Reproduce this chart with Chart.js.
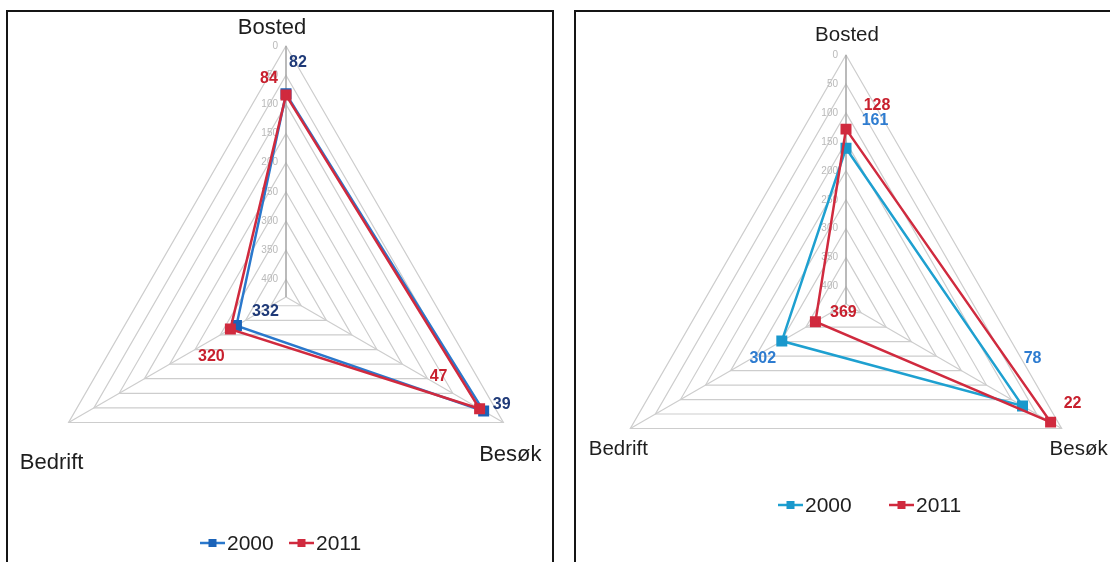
<!DOCTYPE html>
<html>
<head>
<meta charset="utf-8">
<script src="https://cdn.jsdelivr.net/npm/chart.js@4.4.1/dist/chart.umd.min.js"></script>
<style>
  html, body { margin: 0; padding: 0; background: #fff; }
  body { width: 1110px; height: 562px; position: relative; overflow: hidden; }
  .frame { position: absolute; top: 10px; height: 600px; border: 2px solid #151515; box-sizing: border-box; background: #fff; }
  #frameLeft { left: 6px; width: 548px; }
  #frameRight { left: 574px; width: 600px; }
  canvas { position: absolute; top: 0; }
  #leftChart { left: 0; }
  #rightChart { left: 565px; }
</style>
</head>
<body>
<div class="frame" id="frameLeft"></div>
<div class="frame" id="frameRight"></div>
<canvas id="leftChart" width="560" height="562"></canvas>
<canvas id="rightChart" width="545" height="562"></canvas>
<script>
const categories = ["Bosted", "Besøk", "Bedrift"];
const seriesNames = ["2000", "2011"];
// rank values, low rank = outer edge (reversed axis)
const left2000 = [82, 39, 332];
const left2011 = [84, 47, 320];
const right2000 = [161, 78, 302];
const right2011 = [128, 22, 369];
const tickValues = [0, 50, 100, 150, 200, 250, 300, 350, 400];
const axisMax = 430;

const FONT = '"Liberation Sans", Arial, sans-serif';
const RED = "#d02a3e";

// draws tick labels, category labels, value labels and legend
const radarText = {
    id: "radarText",
    beforeDatasetsDraw(chart, args, opts) {
        const ctx = chart.ctx;
        const r = chart.scales.r;
        ctx.save();
        ctx.font = "10px " + FONT;
        ctx.fillStyle = "#b9b9b9";
        ctx.textAlign = "right";
        ctx.textBaseline = "middle";
        tickValues.forEach((v) => {
            const p = r.getPointPositionForValue(0, v);
            ctx.fillText(String(v), p.x - 8, p.y);
        });
        ctx.restore();
    },
    afterDatasetsDraw(chart, args, opts) {
        const ctx = chart.ctx;
        const r = chart.scales.r;
        ctx.save();

        // category labels
        ctx.font = opts.catFont + "px " + FONT;
        ctx.fillStyle = "#1e1e1e";
        ctx.textAlign = "center";
        ctx.textBaseline = "middle";
        chart.data.labels.forEach((label, i) => {
            const p = r.getPointPositionForValue(i, 0);
            const off = opts.catOffsets[i];
            ctx.fillText(label, p.x + off[0], p.y + off[1]);
        });

        // value labels
        ctx.font = "bold 16px " + FONT;
        chart.data.datasets.forEach((ds, di) => {
            const meta = chart.getDatasetMeta(di);
            ctx.fillStyle = opts.valueColors[di];
            meta.data.forEach((pt, i) => {
                const off = opts.valueOffsets[di][i];
                ctx.fillText(String(ds.data[i]), pt.x + off[0], pt.y + off[1]);
            });
        });

        // legend
        ctx.font = "21px " + FONT;
        ctx.textAlign = "left";
        chart.data.datasets.forEach((ds, di) => {
            const x = opts.legendX[di];
            const y = opts.legendY;
            ctx.strokeStyle = ds.borderColor;
            ctx.lineWidth = 2.5;
            ctx.beginPath();
            ctx.moveTo(x, y);
            ctx.lineTo(x + 25, y);
            ctx.stroke();
            ctx.fillStyle = ds.pointBackgroundColor;
            ctx.fillRect(x + 8.5, y - 4, 8, 8);
            ctx.fillStyle = "#1e1e1e";
            ctx.fillText(ds.label, x + 27, y + 1);
        });
        ctx.restore();
    },
};

const makeRadar = (id, data2000, data2011, blue, blueMarker, padding, textOpts) => {
    const ctx = document.getElementById(id).getContext("2d");
    return new Chart(ctx, {
        type: "radar",
        data: {
            labels: categories,
            datasets: [
                {
                    label: seriesNames[0],
                    data: data2000,
                    borderColor: blue,
                    backgroundColor: blue,
                    pointBackgroundColor: blueMarker,
                    pointBorderColor: blueMarker,
                    borderWidth: 2.5,
                    pointStyle: "rect",
                    pointRadius: 6,
                    fill: false,
                    order: 1,
                },
                {
                    label: seriesNames[1],
                    data: data2011,
                    borderColor: RED,
                    backgroundColor: RED,
                    pointBackgroundColor: RED,
                    pointBorderColor: RED,
                    borderWidth: 2.5,
                    pointStyle: "rect",
                    pointRadius: 6,
                    fill: false,
                    order: 0,
                },
            ],
        },
        options: {
            responsive: false,
            animation: false,
            layout: { padding: padding },
            plugins: {
                legend: { display: false },
                tooltip: { enabled: false },
                radarText: textOpts,
            },
            scales: {
                r: {
                    min: 0,
                    max: axisMax,
                    reverse: true,
                    ticks: { display: false, stepSize: 50, showLabelBackdrop: false },
                    pointLabels: { display: false },
                    grid: { color: "#cdcdcd", lineWidth: 1.2 },
                    angleLines: {
                        color: (c) => (c.index === 0 ? "#a9a9a9" : "#cdcdcd"),
                        lineWidth: (c) => (c.index === 0 ? 1.6 : 1.2),
                    },
                    // duplicate first tick so the outer ring (value 0) gets drawn
                    afterBuildTicks: (scale) => {
                        scale.ticks.unshift({ value: 0 });
                    },
                },
            },
        },
        plugins: [radarText],
    });
};

makeRadar("leftChart", left2000, left2011, "#2a78cc", "#1b63b8",
    { left: 35, top: 46, right: 23, bottom: 14 },
    {
        catFont: 22,
        catOffsets: [[-14, -18], [7, 32], [-17, 40]],
        valueColors: ["#1f3a78", "#c8202e"],
        valueOffsets: [
            [[12, -31], [18, -7], [29, -14]],
            [[-17, -16], [-41, -32], [-19, 27]],
        ],
        legendX: [200, 289],
        legendY: 543,
    });

makeRadar("rightChart", right2000, right2011, "#1ea0d0", "#1a98cc",
    { left: 32, top: 55, right: 15, bottom: 9 },
    {
        catFont: 20.5,
        catOffsets: [[1, -20], [17, 21], [-12, 21]],
        valueColors: ["#2e7cd0", "#c8202e"],
        valueOffsets: [
            [[29, -28], [10, -47], [-19, 18]],
            [[31, -24], [22, -19], [28, -9]],
        ],
        legendX: [213, 324],
        legendY: 505,
    });
</script>
</body>
</html>
